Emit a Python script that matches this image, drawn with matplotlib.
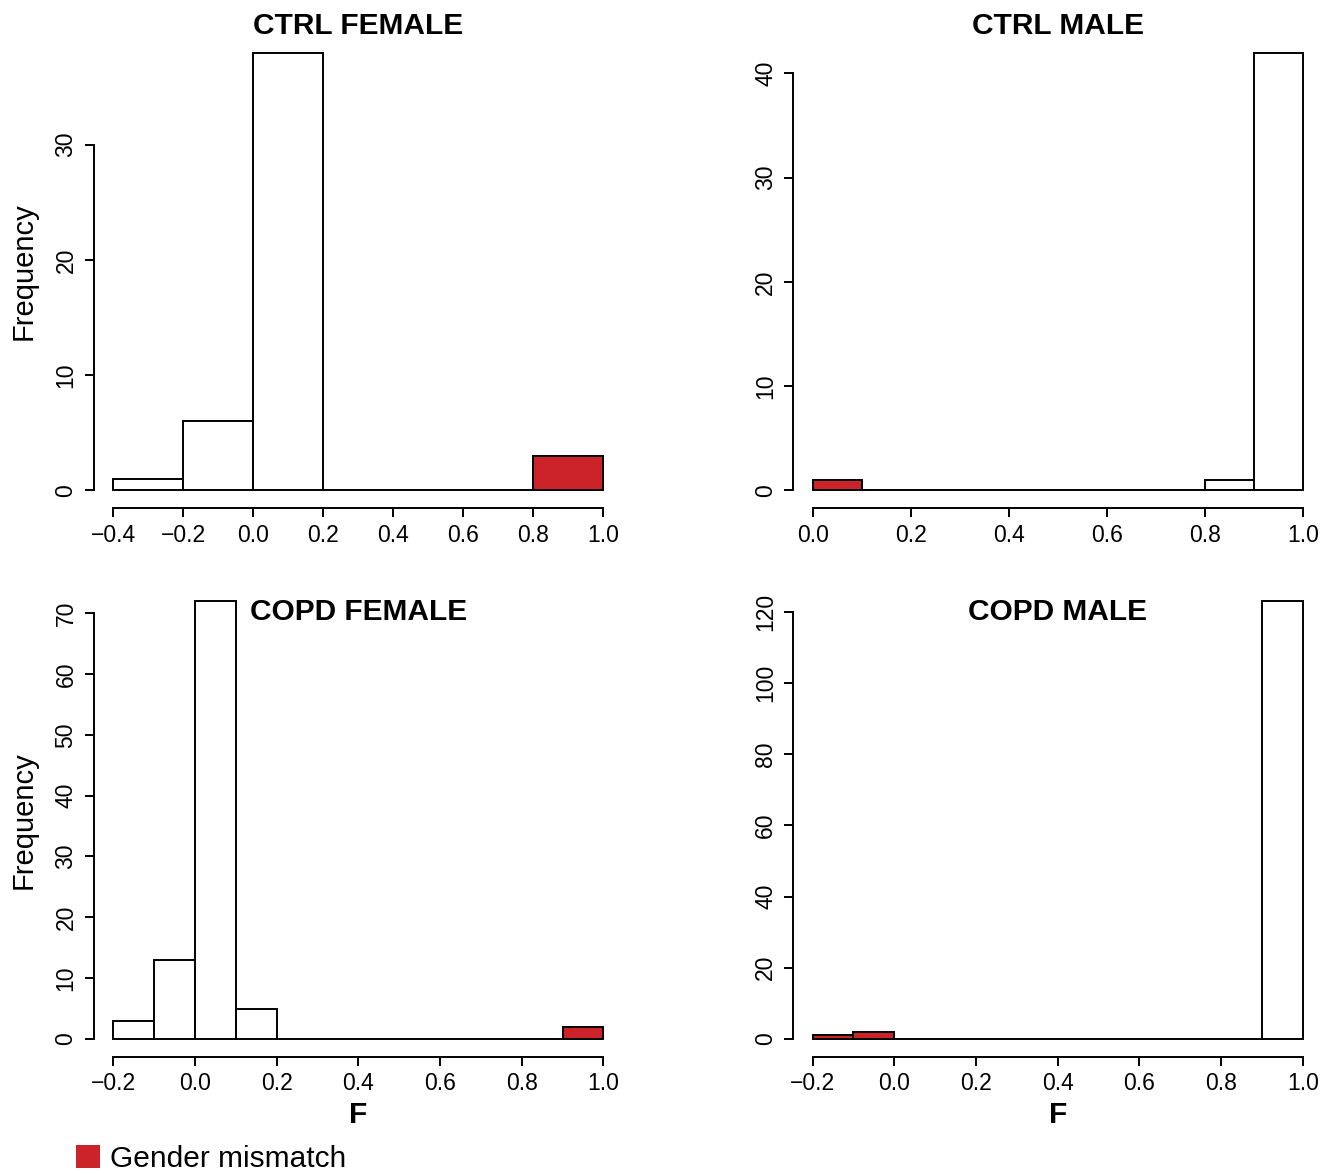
import numpy as np
import matplotlib
matplotlib.use('Agg')
import matplotlib.pyplot as plt
from matplotlib.patches import Patch

plt.rcParams['font.family'] = ['Liberation Sans', 'DejaVu Sans']

# histogram data: bin edges, counts, and which bins are gender mismatch
ctrl_f_edges = [-0.4, -0.2, 0.0, 0.2, 0.4, 0.6, 0.8, 1.0]
ctrl_f_counts = [1, 6, 38, 0, 0, 0, 3]
ctrl_f_mismatch = [0, 0, 0, 0, 0, 0, 1]

ctrl_m_edges = [0.0, 0.1, 0.2, 0.3, 0.4, 0.5, 0.6, 0.7, 0.8, 0.9, 1.0]
ctrl_m_counts = [1, 0, 0, 0, 0, 0, 0, 0, 1, 42]
ctrl_m_mismatch = [1, 0, 0, 0, 0, 0, 0, 0, 0, 0]

copd_f_edges = [-0.2, -0.1, 0.0, 0.1, 0.2, 0.3, 0.4, 0.5, 0.6, 0.7, 0.8, 0.9, 1.0]
copd_f_counts = [3, 13, 72, 5, 0, 0, 0, 0, 0, 0, 0, 2]
copd_f_mismatch = [0, 0, 0, 0, 0, 0, 0, 0, 0, 0, 0, 1]

copd_m_edges = [-0.2, -0.1, 0.0, 0.1, 0.2, 0.3, 0.4, 0.5, 0.6, 0.7, 0.8, 0.9, 1.0]
copd_m_counts = [1, 2, 0, 0, 0, 0, 0, 0, 0, 0, 0, 123]
copd_m_mismatch = [1, 1, 0, 0, 0, 0, 0, 0, 0, 0, 0, 0]

x_ticks_ctrl_f = [-0.4, -0.2, 0.0, 0.2, 0.4, 0.6, 0.8, 1.0]
x_ticks_ctrl_m = [0.0, 0.2, 0.4, 0.6, 0.8, 1.0]
x_ticks_copd = [-0.2, 0.0, 0.2, 0.4, 0.6, 0.8, 1.0]

y_ticks_ctrl_f = [0, 10, 20, 30]
y_ticks_ctrl_m = [0, 10, 20, 30, 40]
y_ticks_copd_f = [0, 10, 20, 30, 40, 50, 60, 70]
y_ticks_copd_m = [0, 20, 40, 60, 80, 100, 120]

red = '#cc2229'
W, H = 1334, 1174

fig = plt.figure(figsize=(W / 100, H / 100), dpi=100)


def panel(px_left, px_bottom, edges, counts, mismatch, xticks, yticks,
          title, title_y, ylabel=False, xlabel=False):
    # plot region in pixels (R style: 4% padding on data range)
    ax = fig.add_axes([px_left / W, 1 - px_bottom / H, 529.5 / W, 473 / H])
    edges = np.array(edges)
    colors = [red if m else 'white' for m in mismatch]
    ax.bar(edges[:-1], counts, width=np.diff(edges), align='edge',
           color=colors, edgecolor='black', linewidth=1.4)
    r = edges[-1] - edges[0]
    ax.set_xlim(edges[0] - 0.04 * r, edges[-1] + 0.04 * r)
    top = max(counts)
    ax.set_ylim(-0.04 * top, 1.04 * top)
    ax.set_xticks(xticks)
    ax.set_xticklabels([('%.1f' % t).replace('-', '\u2212') for t in xticks])
    ax.set_yticks(yticks)
    for s in ['top', 'right']:
        ax.spines[s].set_visible(False)
    ax.spines['left'].set_bounds(yticks[0], yticks[-1])
    ax.spines['bottom'].set_bounds(xticks[0], xticks[-1])
    for s in ['left', 'bottom']:
        ax.spines[s].set_linewidth(1.4)
    ax.tick_params(direction='out', length=6.5, width=1.4, labelsize=16.5, pad=5)
    ax.tick_params(axis='y', labelrotation=90)
    for lab in ax.get_yticklabels():
        lab.set_va('center')
    ax.text(0.5, title_y, title, transform=ax.transAxes, ha='center',
            va='center', fontsize=21.5, fontweight='bold')
    if ylabel:
        ax.set_ylabel('Frequency', fontsize=21)
        ax.yaxis.set_label_coords(-0.105, 0.5)
    if xlabel:
        ax.set_xlabel('F', fontsize=21.5, fontweight='bold')
        ax.xaxis.set_label_coords(0.5, -0.095)
    return ax


panel(93.5, 508, ctrl_f_edges, ctrl_f_counts, ctrl_f_mismatch, x_ticks_ctrl_f,
      y_ticks_ctrl_f, 'CTRL FEMALE', 1.02, ylabel=True)
panel(793, 508, ctrl_m_edges, ctrl_m_counts, ctrl_m_mismatch, x_ticks_ctrl_m,
      y_ticks_ctrl_m, 'CTRL MALE', 1.02)
panel(93.5, 1056.5, copd_f_edges, copd_f_counts, copd_f_mismatch, x_ticks_copd,
      y_ticks_copd_f, 'COPD FEMALE', 0.94, ylabel=True, xlabel=True)
panel(793, 1056.5, copd_m_edges, copd_m_counts, copd_m_mismatch, x_ticks_copd,
      y_ticks_copd_m, 'COPD MALE', 0.94, xlabel=True)

fig.legend(handles=[Patch(facecolor=red, edgecolor='none')],
           labels=['Gender mismatch'], loc='lower left',
           bbox_to_anchor=(70 / W, -5 / H), frameon=False, fontsize=21.5,
           handlelength=0.8, handleheight=0.8, handletextpad=0.35,
           borderaxespad=0, borderpad=0.2)

fig.savefig('out.png', dpi=100, facecolor='white')
